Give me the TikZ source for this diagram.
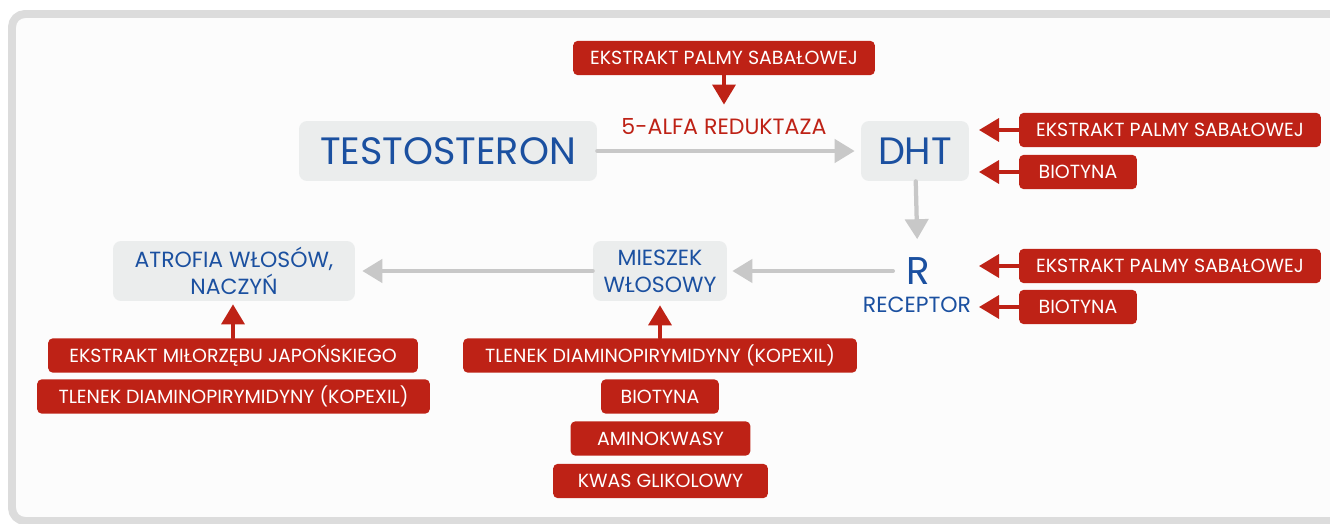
\documentclass[tikz,border=0pt]{standalone}
\usepackage{fontspec}
\setmainfont{Poppins}
\usetikzlibrary{arrows.meta}
\definecolor{czerw}{RGB}{190,34,22}
\definecolor{nieb}{RGB}{27,80,160}
\definecolor{tlo}{RGB}{235,237,237}
\definecolor{strz}{RGB}{200,200,200}
\definecolor{rama}{RGB}{220,220,220}
\newcommand{\lek}[4]{
  \node[lekbox, minimum width = #3] (#1) at (#2) {#4};
}

\begin{document}
\begin{tikzpicture}[x = 0.02cm, y = -0.02cm, line cap = round, line join = round,
    etap/.style = {fill = tlo, rounded corners = 1.6mm, text = nieb, inner sep = 0,
      align = center, minimum height = 12mm},
    lekbox/.style = {fill = czerw, rounded corners = 1mm, text = white, inner sep = 0,
      minimum height = 6.9mm, font = \fontsize{10.8pt}{13pt}\selectfont},
    szara/.style = {draw = strz, line width = 0.85mm, -{Triangle[width = 4.6mm, length = 4mm]}},
    czerwona/.style = {draw = czerw, line width = 0.7mm, -{Triangle[width = 4.6mm, length = 4mm]}}]
  \useasboundingbox (0, 0) rectangle (1330, 524);
  \clip (0, 0) rectangle (1330, 524);
  \draw[rama, line width = 1.6mm, rounded corners = 2.6mm, fill = white!99!black] (12, 14) rectangle (1360, 521);

  % glowny szlak
  \node[etap, minimum width = 59.6mm, font = \fontsize{21.7pt}{26pt}\selectfont] (testo) at (448, 151) {TESTOSTERON};
  \node[etap, minimum width = 21.6mm, font = \fontsize{21.7pt}{26pt}\selectfont] (dht) at (915, 151) {DHT};
  \node[text = czerw, inner sep = 0, font = \fontsize{12.6pt}{14pt}\selectfont] (alfa) at (724, 127) {5-ALFA REDUKTAZA};
  \node[text = nieb, inner sep = 0, font = \fontsize{22pt}{26pt}\selectfont] (r) at (918, 271) {R};
  \node[text = nieb, inner sep = 0, font = \fontsize{12.5pt}{14pt}\selectfont] (receptor) at (917, 305) {RECEPTOR};
  \node[etap, minimum width = 26.8mm, font = \fontsize{12.5pt}{15.3pt}\selectfont] (mieszek) at (660, 271) {MIESZEK\\WŁOSOWY};
  \node[etap, minimum width = 48.4mm, font = \fontsize{12.5pt}{15.3pt}\selectfont] (atrofia) at (234, 271) {ATROFIA WŁOSÓW,\\NACZYŃ};

  \draw[szara, shorten > = 1.2mm] (testo) -- (dht);
  \draw[szara, shorten > = 3.6mm] (dht) -- (r);
  \draw[szara, shorten < = 2.6mm, shorten > = 1mm] (r) -- (mieszek);
  \draw[szara, shorten > = 1.4mm] (mieszek) -- (atrofia);

  % skladniki
  \lek{palma}{724, 58}{60.4mm}{EKSTRAKT PALMY SABAŁOWEJ}
  \lek{palmadht}{1170, 130}{60.4mm}{EKSTRAKT PALMY SABAŁOWEJ}
  \lek{biodht}{1078, 172}{23.6mm}{BIOTYNA}
  \lek{palmar}{1170, 266}{60.4mm}{EKSTRAKT PALMY SABAŁOWEJ}
  \lek{bior}{1078, 307}{23.6mm}{BIOTYNA}
  \lek{milorzab}{233, 355.5}{74mm}{EKSTRAKT MIŁORZĘBU JAPOŃSKIEGO}
  \lek{kopexila}{233.5, 396.5}{78.6mm}{TLENEK DIAMINOPIRYMIDYNY (KOPEXIL)}
  \lek{kopexilm}{660, 355.5}{78.8mm}{TLENEK DIAMINOPIRYMIDYNY (KOPEXIL)}
  \lek{biom}{660, 396.5}{23.6mm}{BIOTYNA}
  \lek{amino}{660.5, 438.5}{36mm}{AMINOKWASY}
  \lek{kwas}{660.5, 481}{43mm}{KWAS GLIKOLOWY}

  \coordinate (stop) at (979, 0);
  \draw[czerwona, shorten > = 2.8mm] (palma) -- (alfa);
  \draw[czerwona] (palmadht.west) -- (palmadht.west -| stop);
  \draw[czerwona] (biodht.west) -- (biodht.west -| stop);
  \draw[czerwona] (palmar.west) -- (palmar.west -| stop);
  \draw[czerwona] (bior.west) -- (bior.west -| stop);
  \draw[czerwona, shorten > = 0.6mm] (milorzab.north) -- (milorzab.north |- atrofia.south);
  \draw[czerwona, shorten > = 0.8mm] (kopexilm.north) -- (kopexilm.north |- mieszek.south);
\end{tikzpicture}
\end{document}
